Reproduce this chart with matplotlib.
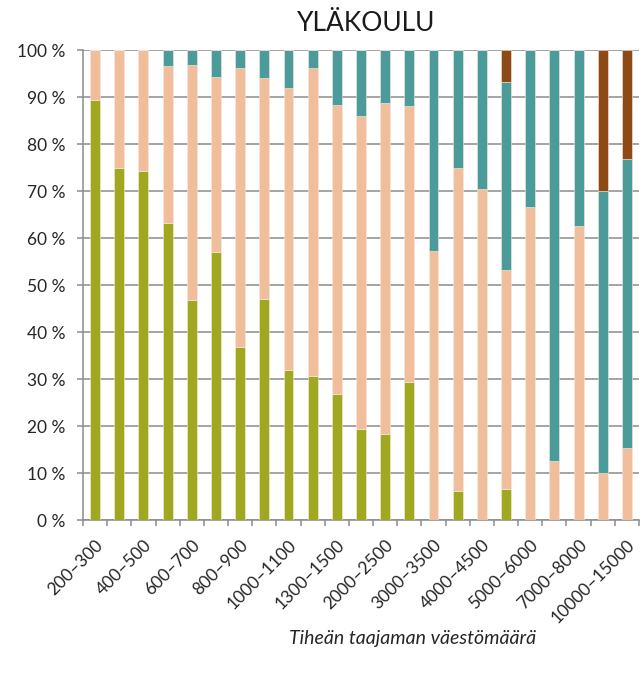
import matplotlib.pyplot as plt
import numpy as np

plt.rcParams['font.family'] = ['Lato', 'DejaVu Sans']

# population size classes of the dense urban area
categories = ['200–300', '300–400', '400–500', '500–600', '600–700', '700–800',
              '800–900', '900–1000', '1000–1100', '1100–1300', '1300–1500',
              '1500–2000', '2000–2500', '2500–3000', '3000–3500', '3500–4000',
              '4000–4500', '4500–5000', '5000–6000', '6000–7000', '7000–8000',
              '8000–10000', '10000–15000']

# shares in percent, bottom to top
green = [89.4, 75.0, 74.3, 63.3, 46.8, 57.0, 36.9, 47.0, 31.9, 30.7, 26.9, 19.4,
         18.4, 29.3, 0, 6.2, 0, 6.7, 0, 0, 0, 0, 0]
peach = [10.6, 25.0, 25.7, 33.3, 50.0, 37.3, 59.4, 47.1, 60.1, 65.4, 61.5, 66.6,
         70.4, 58.8, 57.2, 68.8, 70.5, 46.6, 66.7, 12.5, 62.5, 10.0, 15.4]
teal = [0, 0, 0, 3.4, 3.2, 5.7, 3.7, 5.9, 8.0, 3.9, 11.6, 14.0,
        11.2, 11.9, 42.8, 25.0, 29.5, 40.0, 33.3, 87.5, 37.5, 60.0, 61.5]
brown = [0, 0, 0, 0, 0, 0, 0, 0, 0, 0, 0, 0,
         0, 0, 0, 0, 0, 6.7, 0, 0, 0, 30.0, 23.1]

series = [(green, '#A0A81F'), (peach, '#F0BE9B'), (teal, '#4B9B9B'), (brown, '#8D4A16')]

fig = plt.figure(figsize=(6.42, 6.78), dpi=100)
ax = fig.add_axes([0.1293, 0.233, 0.866, 0.693])

x = np.arange(len(categories))
bottom = np.zeros(len(categories))
for vals, col in series:
    vals = np.array(vals)
    ax.bar(x, vals, 0.41, bottom=bottom, color=col, edgecolor='#F7E9DF',
           linewidth=0.4, zorder=3)
    bottom += vals

ax.set_xlim(-0.5, len(categories) - 0.5)
ax.set_ylim(0, 100)
ax.set_yticks(np.arange(0, 101, 10))
ax.set_yticklabels([f'{v} %' for v in range(0, 101, 10)], fontsize=12.5, color='#262626')
ax.yaxis.grid(True, color='#8C8C8C', linewidth=1.1, zorder=0)
ax.tick_params(axis='y', length=4.5, color='#8C8C8C', width=1.1, pad=8)

# ticks between the categories, labels on every other bar
ax.set_xticks(np.arange(-0.5, len(categories)), minor=False)
ax.set_xticklabels([])
ax.tick_params(axis='x', which='major', length=4.5, color='#8C8C8C', width=1.1)
ax.set_xticks(x[::2], minor=True)
ax.set_xticklabels(categories[::2], minor=True, rotation=45, ha='right', va='top',
                   rotation_mode='anchor', fontsize=12.5, color='#262626')
ax.tick_params(axis='x', which='minor', length=0, pad=12)

for s in ['top', 'right']:
    ax.spines[s].set_visible(False)
for s in ['left', 'bottom']:
    ax.spines[s].set_color('#8C8C8C')
    ax.spines[s].set_linewidth(1.1)

fig.text(0.57, 0.966, 'YLÄKOULU', ha='center', va='center', fontsize=19, color='#1a1a1a')
fig.text(0.643, 0.058, 'Tiheän taajaman väestömäärä', ha='center', va='center',
         fontsize=14, style='italic', color='#262626')

plt.savefig('out.png', dpi=100)
